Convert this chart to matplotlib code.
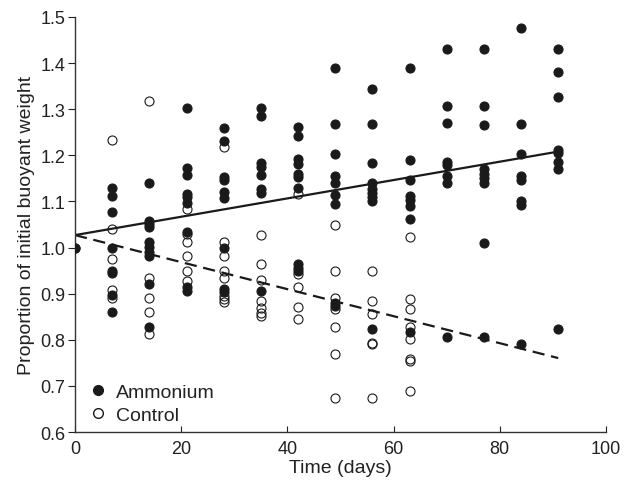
import matplotlib
matplotlib.use("Agg")
import matplotlib.pyplot as plt
from matplotlib.lines import Line2D
import numpy as np

plt.rcParams["font.family"] = ["Liberation Sans", "DejaVu Sans"]

# buoyant weight / initial, per sampling day
ammonium = {
    0: [1.000],
    7: [1.129, 1.112, 1.078, 1.000, 0.950, 0.945, 0.897, 0.861],
    14: [1.141, 1.058, 1.051, 1.044, 1.013, 1.001, 0.990, 0.982, 0.921, 0.828],
    21: [1.302, 1.172, 1.157, 1.116, 1.110, 1.096, 1.034, 0.914, 0.906],
    28: [1.260, 1.230, 1.153, 1.146, 1.121, 1.108, 0.998, 0.910, 0.904],
    35: [1.302, 1.285, 1.183, 1.174, 1.158, 1.127, 1.118, 0.906],
    42: [1.261, 1.241, 1.192, 1.181, 1.160, 1.154, 1.130, 0.964, 0.956, 0.950],
    49: [1.389, 1.268, 1.202, 1.156, 1.140, 1.114, 1.094, 0.880, 0.874],
    56: [1.344, 1.268, 1.183, 1.139, 1.127, 1.118, 1.109, 1.100, 0.823],
    63: [1.389, 1.190, 1.146, 1.112, 1.104, 1.091, 1.062, 0.817],
    70: [1.431, 1.306, 1.270, 1.186, 1.179, 1.156, 1.141, 0.807],
    77: [1.431, 1.306, 1.266, 1.170, 1.160, 1.150, 1.141, 1.010, 0.807],
    84: [1.476, 1.269, 1.202, 1.156, 1.147, 1.102, 1.092, 0.790],
    91: [1.431, 1.380, 1.326, 1.212, 1.205, 1.186, 1.170, 0.823],
}

control = {
    0: [1.000],
    7: [1.233, 1.040, 0.975, 0.908, 0.890],
    14: [1.318, 0.934, 0.890, 0.861, 0.812],
    21: [1.083, 1.030, 1.013, 0.981, 0.950, 0.928],
    28: [1.219, 1.013, 0.981, 0.950, 0.933, 0.895, 0.888, 0.882],
    35: [1.027, 0.964, 0.930, 0.885, 0.870, 0.859, 0.852],
    42: [1.117, 0.943, 0.914, 0.872, 0.845],
    49: [1.050, 0.950, 0.890, 0.867, 0.828, 0.770, 0.673],
    56: [0.950, 0.885, 0.856, 0.793, 0.791, 0.673],
    63: [1.022, 0.888, 0.867, 0.827, 0.802, 0.758, 0.755, 0.690],
}

# regression lines: intercept, slope
ammonium_fit = (1.027, 0.00199)
control_fit = (1.027, -0.00293)
fit_days = [0, 91]


def flatten(groups):
    xs, ys = [], []
    for day, vals in groups.items():
        xs += [day] * len(vals)
        ys += vals
    return np.array(xs), np.array(ys)


fig = plt.figure(figsize=(6.34, 4.89), dpi=100)
ax = fig.add_axes([0.1183, 0.1145, 0.8375, 0.8487])

t = np.array(fit_days)
ax.plot(t, ammonium_fit[0] + ammonium_fit[1] * t, color="#1a1a1a", lw=1.6, zorder=2)
ax.plot(t, control_fit[0] + control_fit[1] * t, color="#1a1a1a", lw=1.6,
        dashes=(5.5, 3), zorder=2)

am_x, am_y = flatten(ammonium)
ct_x, ct_y = flatten(control)
ax.plot(am_x, am_y, "o", ms=6.5, mfc="#1a1a1a", mec="#1a1a1a", mew=0.8, zorder=3)
ax.plot(ct_x, ct_y, "o", ms=6.5, mfc="none", mec="#1a1a1a", mew=0.8, zorder=4)

ax.set_xlim(0, 100)
ax.set_ylim(0.6, 1.5)
ax.set_xticks(np.arange(0, 101, 20))
ax.set_yticks(np.arange(0.6, 1.51, 0.1))
ax.set_yticklabels([f"{v:.1f}" for v in np.arange(0.6, 1.51, 0.1)])
ax.tick_params(axis="x", direction="in", length=4, labelsize=13, pad=6,
               colors="#222222")
ax.tick_params(axis="y", direction="out", length=5, labelsize=13, pad=2,
               colors="#222222")
for s in ("top", "right"):
    ax.spines[s].set_visible(False)
for s in ("left", "bottom"):
    ax.spines[s].set_linewidth(1.0)
    ax.spines[s].set_color("#333333")

ax.set_xlabel("Time (days)", fontsize=14, labelpad=1.5, color="#222222")
ax.set_ylabel("Proportion of initial buoyant weight", fontsize=14, labelpad=4,
              color="#222222")

handles = [
    Line2D([], [], ls="none", marker="o", ms=7, mfc="#1a1a1a", mec="#1a1a1a"),
    Line2D([], [], ls="none", marker="o", ms=7, mfc="none", mec="#1a1a1a"),
]
leg = ax.legend(handles, ["Ammonium", "Control"], loc="lower left",
                bbox_to_anchor=(0.0, 0.0), frameon=False, fontsize=14,
                handletextpad=0.15, labelspacing=0.3, handlelength=1.55,
                borderaxespad=0)
for txt in leg.get_texts():
    txt.set_color("#222222")

fig.savefig("out.png", dpi=100)
